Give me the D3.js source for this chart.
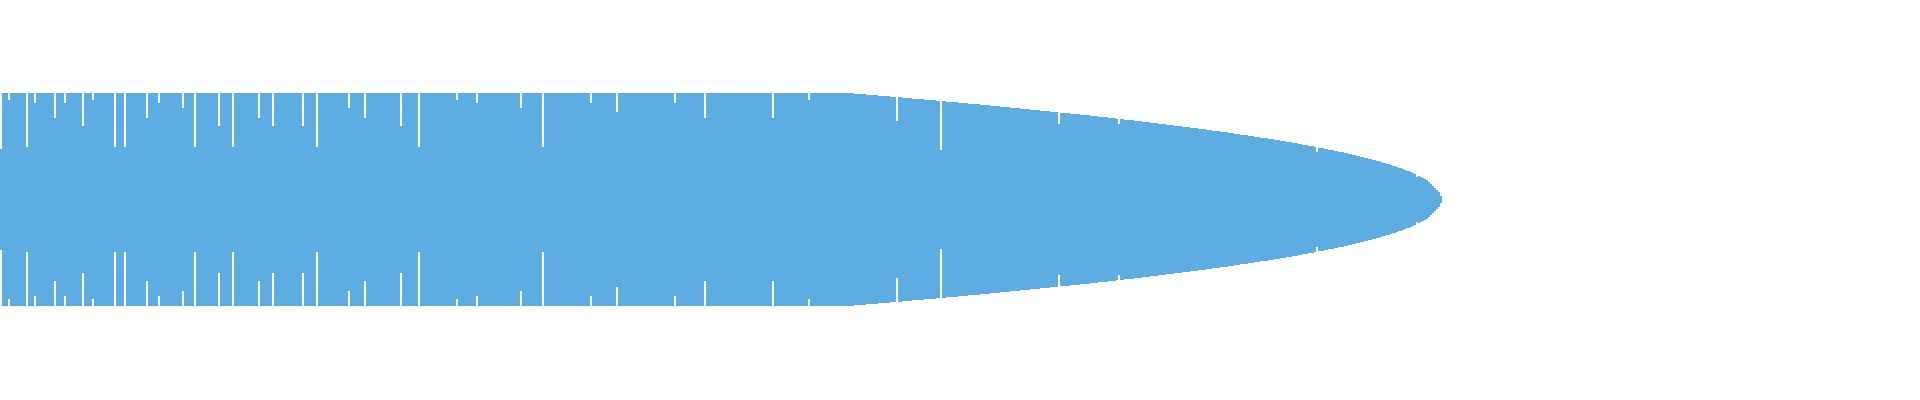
<!DOCTYPE html>
<html>
<head>
<meta charset="utf-8">
<script src="https://cdn.jsdelivr.net/npm/d3@7"></script>
<style>
	html, body { margin: 0; padding: 0; background: #fff; overflow: hidden; }
</style>
</head>
<body>
<div id="chart"></div>
<script>
// 1: DATA (one value per slot, 100 = full height, mirrored around the middle)
const slotCount = 960;

const values = [
	47,100,100,100,93.7,100,100,100,100,100,100,100,100,49.7,100,100,100,90.9,100,100,
	100,100,100,100,100,100,100,76.9,100,100,100,100,90.9,100,100,100,100,100,100,100,
	100,69.4,100,100,100,100,93.7,100,100,100,100,100,100,100,100,100,100,49.7,100,100,
	100,100,49.7,100,100,100,100,100,100,100,100,100,100,76.9,100,100,100,100,100,90.9,
	100,100,100,100,100,100,100,100,100,100,100,86.2,100,100,100,100,100,49.7,100,100,
	100,100,100,100,100,100,100,100,100,69.4,100,100,100,100,100,100,49.7,100,100,100,
	100,100,100,100,100,100,100,100,100,76.9,100,100,100,100,100,100,69.4,100,100,100,
	100,100,100,100,100,100,100,100,100,100,100,69.4,100,100,100,100,100,100,49.7,100,
	100,100,100,100,100,100,100,100,100,100,100,100,100,100,86.2,100,100,100,100,100,
	100,100,76.9,100,100,100,100,100,100,100,100,100,100,100,100,100,100,100,100,100,
	69.4,100,100,100,100,100,100,100,100,49.7,100,100,100,100,100,100,100,100,100,100,
	100,100,100,100,100,100,100,100,93.7,100,100,100,100,100,100,100,100,100,90.9,100,
	100,100,100,100,100,100,100,100,100,100,100,100,100,100,100,100,100,100,100,100,
	86.2,100,100,100,100,100,100,100,100,100,100,49.7,100,100,100,100,100,100,100,100,
	100,100,100,100,100,100,100,100,100,100,100,100,100,100,100,90.9,100,100,100,100,
	100,100,100,100,100,100,100,100,82.5,100,100,100,100,100,100,100,100,100,100,100,
	100,100,100,100,100,100,100,100,100,100,100,100,100,100,100,100,100,90.9,100,100,
	100,100,100,100,100,100,100,100,100,100,100,100,76.9,100,100,100,100,100,100,100,
	100,100,100,100,100,100,100,100,100,100,100,100,100,100,100,100,100,100,100,100,
	100,100,100,100,100,100,76.9,100,100,100,100,100,100,100,100,100,100,100,100,100,
	100,100,100,100,93.7,100,100,100,100,100,100,100,100,100,100,100,100,100,100,100,
	100,100,100,100,100,100,100,99.1,99.1,99.1,99.1,99.1,99.1,98.1,98.1,98.1,98.1,98.1,98.1,97.2,
	97.2,97.2,97.2,97.2,97.2,96.3,96.3,96.3,73.8,96.3,96.3,95.3,95.3,95.3,95.3,95.3,94.4,94.4,94.4,94.4,
	94.4,94.4,93.4,93.4,93.4,93.4,93.4,93.4,92.5,92.5,46.6,92.5,92.5,91.6,91.6,91.6,91.6,91.6,91.6,90.6,
	90.6,90.6,90.6,90.6,89.7,89.7,89.7,89.7,89.7,89.7,88.8,88.8,88.8,88.8,88.8,87.8,87.8,87.8,87.8,87.8,
	86.9,86.9,86.9,86.9,86.9,85.9,85.9,85.9,85.9,85.9,85.0,85.0,85.0,85.0,85.0,84.1,84.1,84.1,84.1,84.1,
	83.1,83.1,83.1,83.1,83.1,82.2,82.2,82.2,82.2,71.0,81.3,81.3,81.3,81.3,81.3,80.3,80.3,80.3,80.3,80.3,
	79.4,79.4,79.4,79.4,79.4,78.4,78.4,78.4,78.4,77.5,77.5,77.5,77.5,77.5,76.6,76.6,76.6,76.6,75.6,71.0,
	75.6,75.6,74.7,74.7,74.7,74.7,74.7,73.8,73.8,73.8,73.8,72.8,72.8,72.8,72.8,71.9,71.9,71.9,71.9,71.0,
	71.0,71.0,71.0,70.0,70.0,70.0,70.0,69.1,69.1,69.1,69.1,68.1,68.1,68.1,68.1,67.2,67.2,67.2,67.2,66.3,
	66.3,66.3,66.3,65.3,65.3,65.3,64.4,64.4,64.4,64.4,63.4,63.4,63.4,63.4,62.5,62.5,62.5,61.6,61.6,61.6,
	60.6,60.6,60.6,60.6,59.7,59.7,59.7,58.8,58.8,58.8,57.8,57.8,57.8,57.8,56.9,56.9,56.9,55.9,55.9,55.9,
	55.0,55.0,55.0,54.1,54.1,54.1,53.1,53.1,53.1,52.2,52.2,51.2,51.2,51.2,50.3,50.3,50.3,49.4,44.7,48.5,
	48.5,48.5,47.5,47.5,46.6,46.6,46.6,45.6,45.6,44.7,44.7,44.7,43.8,43.8,42.8,42.8,41.9,41.9,41.0,41.0,
	40.0,40.0,39.1,39.1,38.1,38.1,37.2,37.2,36.3,36.3,35.3,34.4,34.4,33.4,33.4,32.5,31.6,31.6,30.6,29.7,
	29.7,28.8,27.8,26.9,26.9,25.9,25.0,24.1,21.3,22.2,21.3,20.3,18.9,18.0,16.1,14.2,12.4,10.5,8.6,6.7,
	3.5
];

// 2: SET GLOBAL VARIABLES
const margin = { top: 93, right: 0, bottom: 94, left: 0 };
const width = 1920 - margin.left - margin.right;
const height = 400 - margin.top - margin.bottom;

const svg = d3.select("#chart")
	.append("svg")
		.attr("width", width + margin.left + margin.right)
		.attr("height", height + margin.top + margin.bottom)
	.append("g")
		.attr("transform", `translate(${margin.left},${margin.top})`);

// 3: SCALES
const xScale = d3.scaleLinear()
	.domain([0, slotCount])
	.range([0, width]);

const yScale = d3.scaleLinear()
	.domain([-100, 100])
	.range([height, 0]);

const barWidth = xScale(1) - xScale(0);

// 4: BARS, centred on zero
svg.selectAll(".bar")
	.data(values)
	.enter()
	.append("rect")
		.attr("class", "bar")
		.attr("x", (d, i) => xScale(i))
		.attr("width", barWidth)
		.attr("y", d => yScale(d))
		.attr("height", d => yScale(-d) - yScale(d))
		.attr("fill", "#5dade2")
		.attr("shape-rendering", "crispEdges");
</script>
</body>
</html>
